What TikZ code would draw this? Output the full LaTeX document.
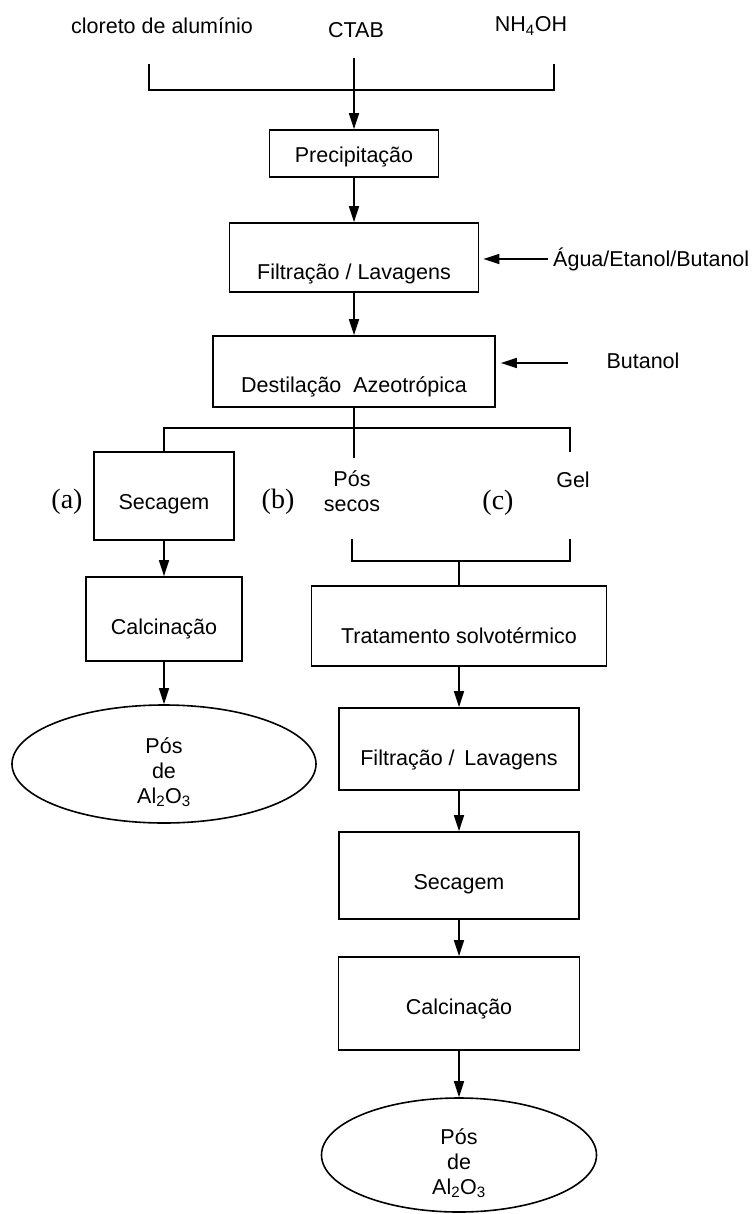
\documentclass[tikz,border=0pt]{standalone}
\usepackage{fontspec}
\setmainfont{Liberation Sans}
\newfontfamily\rotulofont{Liberation Serif}
\usetikzlibrary{shapes.geometric}
\usetikzlibrary{arrows.meta}
\tikzset{
  caixa/.style={draw, line width=1.7pt, inner sep=0pt, text depth=0pt},
  elipse/.style={draw, ellipse, line width=1.6pt, inner sep=0pt, align=center, text depth=0pt},
  texto/.style={inner sep=0pt},
  rotulo/.style={inner sep=0pt, font=\rotulofont\fontsize{28}{30}\selectfont},
  linha/.style={line width=1.6pt},
  seta/.style={line width=1.6pt, -{Triangle[length=16pt,width=10pt]}}
}
\begin{document}
\begin{tikzpicture}[x=1pt,y=-1pt,font=\fontsize{21.5}{25}\selectfont]
	\useasboundingbox (0,0) rectangle (752,1214);
	%% reagentes
	\node[texto] (cloreto) at (162,26) {cloreto de alumínio};
	\node[texto] (ctab) at (356,30) {CTAB};
	\node[texto] (nh4oh) at (531,26) {NH\textsubscript{4}OH};
	\coordinate (inA) at (149,64);
	\coordinate (inB) at (354,58);
	\coordinate (inC) at (554,64);
	\coordinate (mist) at (354,90);
	\draw[linha] (inA) |- (mist) -| (inC);
	\draw[linha] (inB) -- (mist);
	%% etapas comuns
	\node[caixa, minimum width=169pt, minimum height=47pt, text height=18pt] (prec) at (354,153.5) {Precipitação};
	\node[caixa, minimum width=249pt, minimum height=69pt, text height=44pt] (filt1) at (354,257.5) {Filtração / Lavagens};
	\node[caixa, minimum width=282pt, minimum height=71pt, text height=42pt] (dest) at (354,371.5) {Destilação\ \ Azeotrópica};
	\draw[seta] (mist) -- (prec);
	\draw[seta] (prec) -- (filt1);
	\draw[seta] (filt1) -- (dest);
	%% solventes
	\node[texto, anchor=west] (agua) at (553,259) {Água/Etanol/Butanol};
	\draw[seta, shorten <=5pt, shorten >=4pt] (agua.west) -- (agua.west -| filt1.east);
	\node[texto] (butanol) at (643,361) {Butanol};
	\coordinate (butA) at (568,363);
	\draw[seta, shorten >=5pt] (butA) -- (butA -| dest.east);
	%% ramificacao
	\coordinate (ramo) at (570,428);
	\coordinate (gelA) at (570,452);
	\coordinate (posA) at (354,458);
	\node[caixa, minimum width=140pt, minimum height=88pt, text height=27pt] (sec1) at (164,496) {Secagem};
	\draw[linha] (sec1.north) |- (ramo) -- (gelA);
	\draw[linha] (dest.south) -- (posA);
	\node[rotulo] (rotA) at (67,502) {(a)};
	\node[rotulo] (rotB) at (278,502) {(b)};
	\node[rotulo] (rotC) at (498,503) {(c)};
	\node[texto, align=center] (pos) at (352,491) {Pós\\secos};
	\node[texto] (gel) at (573,480) {Gel};
	%% juncao
	\coordinate (posB) at (352,539);
	\coordinate (gelB) at (570,539);
	\coordinate (junta) at (459,561);
	\draw[linha] (posB) |- (junta) -| (gelB);
	\node[caixa, minimum width=295pt, minimum height=80pt, text height=34pt] (trat) at (459,626) {Tratamento solvotérmico};
	\draw[linha] (junta) -- (trat);
	%% rota (a)
	\node[caixa, minimum width=156pt, minimum height=84pt, text height=30pt] (calc1) at (164,619) {Calcinação};
	\node[elipse, minimum width=304pt, minimum height=118pt, text height=78pt] (po1) at (164,764) {Pós\\de\\Al\textsubscript{2}O\textsubscript{3}};
	\draw[seta] (sec1) -- (calc1);
	\draw[seta] (calc1) -- (po1);
	%% rotas (b) e (c)
	\node[caixa, minimum width=240pt, minimum height=82pt, text height=32pt] (filt2) at (459,749) {Filtração /\hspace{0.45em}Lavagens};
	\node[caixa, minimum width=240pt, minimum height=87pt, text height=27pt] (sec2) at (459,875.5) {Secagem};
	\node[caixa, minimum width=241pt, minimum height=93pt, text height=21pt] (calc2) at (459,1003.5) {Calcinação};
	\node[elipse, minimum width=275pt, minimum height=114pt, text height=78pt] (po2) at (459,1155) {Pós\\de\\Al\textsubscript{2}O\textsubscript{3}};
	\draw[seta] (trat) -- (filt2);
	\draw[seta] (filt2) -- (sec2);
	\draw[seta] (sec2) -- (calc2);
	\draw[seta] (calc2) -- (po2);
\end{tikzpicture}
\end{document}
